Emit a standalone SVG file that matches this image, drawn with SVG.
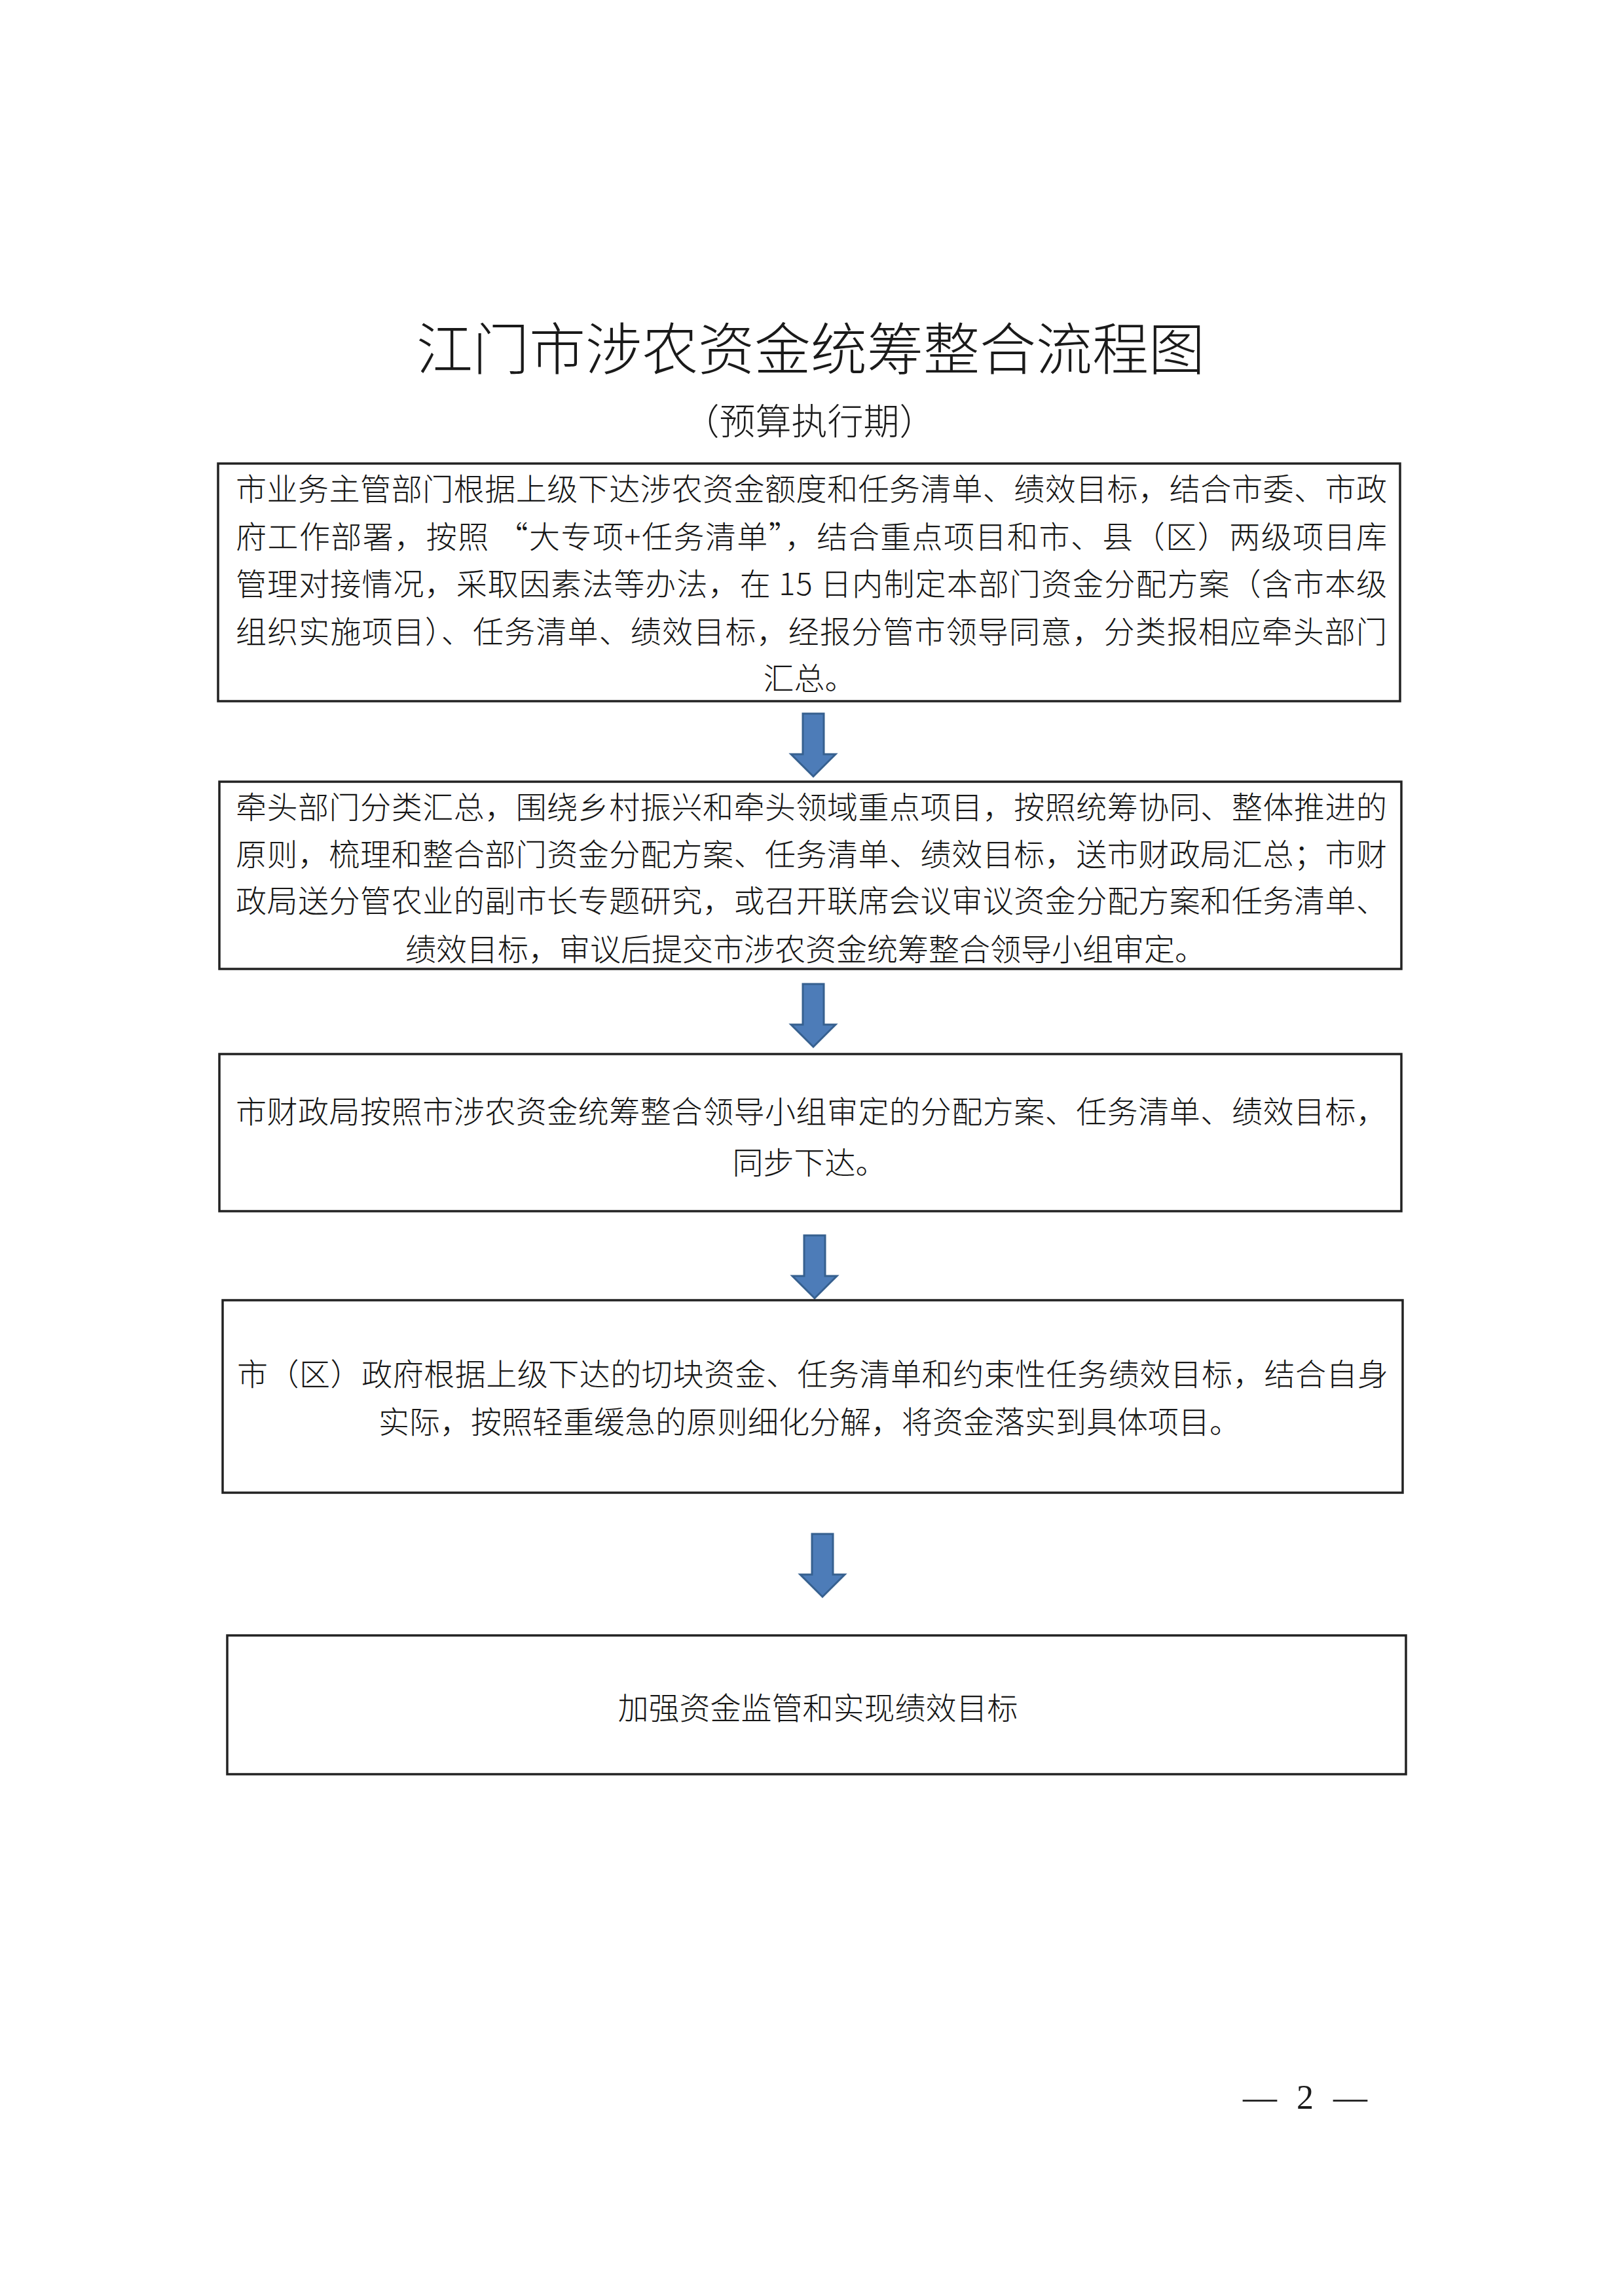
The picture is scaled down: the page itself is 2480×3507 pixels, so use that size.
<svg xmlns="http://www.w3.org/2000/svg" width="2480" height="3507" viewBox="0 0 2480 3507">
<style>
.box{fill:none;stroke:#222;stroke-width:3.5}
.t{font-family:"Noto Sans CJK SC","Liberation Serif",sans-serif;font-size:47px;font-weight:300;fill:#161616}
.c{text-anchor:middle}
.arrow{fill:#4d7cb8;stroke:#36608f;stroke-width:3;stroke-linejoin:miter}
</style>
<defs>
<path id="arr" d="M-16,0 H16 V62 H34 L0,96 L-34,62 H-16 Z"/>
</defs>
<rect width="2480" height="3507" fill="#ffffff"/>
<text x="1238" y="565" text-anchor="middle" font-family="Noto Sans CJK SC, sans-serif" font-size="86" font-weight="300" fill="#1a1a1a">江门市涉农资金统筹整合流程图</text>
<text x="1236" y="663" text-anchor="middle" font-family="Noto Sans CJK SC, sans-serif" font-size="55" font-weight="300" fill="#1a1a1a">（预算执行期）</text>

<g id="connectors">
<use href="#arr" class="arrow" x="1242" y="1090"/>
<use href="#arr" class="arrow" x="1242" y="1503"/>
<use href="#arr" class="arrow" x="1244" y="1887"/>
<use href="#arr" class="arrow" x="1256" y="2343"/>
</g>

<g id="node1">
<rect class="box" x="333" y="708" width="1805" height="363"/>
<text class="t" x="360" y="764" textLength="1758" lengthAdjust="spacing">市业务主管部门根据上级下达涉农资金额度和任务清单、绩效目标，结合市委、市政</text>
<text class="t" x="360" y="837" textLength="1758" lengthAdjust="spacing">府工作部署，按照 “大专项+任务清单”，结合重点项目和市、县（区）两级项目库</text>
<text class="t" x="360" y="909" textLength="1758" lengthAdjust="spacing">管理对接情况，采取因素法等办法，在 15 日内制定本部门资金分配方案（含市本级</text>
<text class="t" x="360" y="982" textLength="1758" lengthAdjust="spacing">组织实施项目）、任务清单、绩效目标，经报分管市领导同意，分类报相应牵头部门</text>
<text class="t c" x="1236" y="1053">汇总。</text>
</g>

<g id="node2">
<rect class="box" x="335" y="1194" width="1805" height="286"/>
<text class="t" x="360" y="1250" textLength="1758" lengthAdjust="spacing">牵头部门分类汇总，围绕乡村振兴和牵头领域重点项目，按照统筹协同、整体推进的</text>
<text class="t" x="360" y="1322" textLength="1758" lengthAdjust="spacing">原则，梳理和整合部门资金分配方案、任务清单、绩效目标，送市财政局汇总；市财</text>
<text class="t" x="360" y="1393" textLength="1758" lengthAdjust="spacing">政局送分管农业的副市长专题研究，或召开联席会议审议资金分配方案和任务清单、</text>
<text class="t c" x="1230" y="1467">绩效目标，审议后提交市涉农资金统筹整合领导小组审定。</text>
</g>

<g id="node3">
<rect class="box" x="335" y="1610" width="1805" height="240"/>
<text class="t" x="360" y="1715" textLength="1758" lengthAdjust="spacing">市财政局按照市涉农资金统筹整合领导小组审定的分配方案、任务清单、绩效目标，</text>
<text class="t c" x="1236" y="1793">同步下达。</text>
</g>

<g id="node4">
<rect class="box" x="340" y="1986" width="1802" height="294"/>
<text class="t" x="362" y="2116" textLength="1758" lengthAdjust="spacing">市（区）政府根据上级下达的切块资金、任务清单和约束性任务绩效目标，结合自身</text>
<text class="t c" x="1236" y="2189">实际，按照轻重缓急的原则细化分解，将资金落实到具体项目。</text>
</g>

<g id="node5">
<rect class="box" x="347" y="2498" width="1800" height="212"/>
<text class="t c" x="1249" y="2626">加强资金监管和实现绩效目标</text>
</g>

<text font-family="Liberation Serif, serif" font-size="52" fill="#1a1a1a" y="3221"><tspan x="1898">—</tspan><tspan x="1980">2</tspan><tspan x="2036">—</tspan></text>
</svg>
